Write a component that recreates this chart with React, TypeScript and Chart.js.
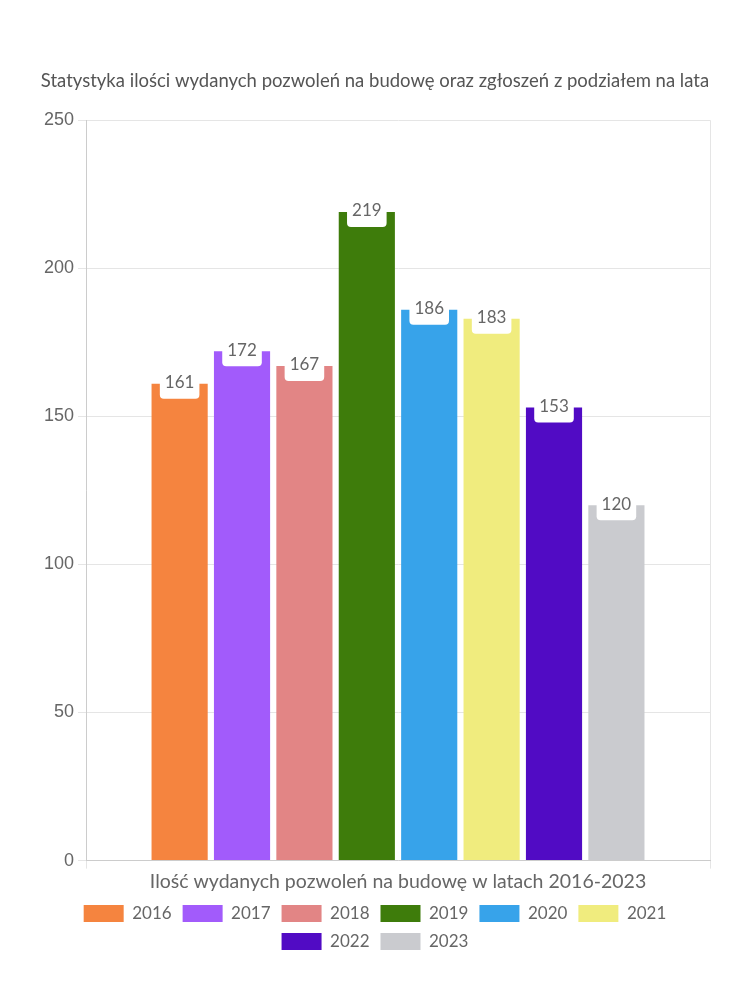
import React, { useEffect, useRef } from "react";
import { Chart, registerables } from "chart.js";

Chart.register(...registerables);

const categories = ["Ilość wydanych pozwoleń na budowę w latach 2016-2023"];
const years = ["2016", "2017", "2018", "2019", "2020", "2021", "2022", "2023"];
const values = [161, 172, 167, 219, 186, 183, 153, 120];
const colors = ["#F5843F", "#A25BFB", "#E28585", "#3E7C0B", "#37A3EA", "#F0EC7E", "#510BC4", "#CACBCF"];
const yTicks = [0, 50, 100, 150, 200, 250];
const titleText = "Statystyka ilości wydanych pozwoleń na budowę oraz zgłoszeń z podziałem na lata";

const FONT = "Lato, 'Noto Sans', sans-serif";

const labelPlugin = {
  id: "barLabels",
  afterDatasetsDraw(chart: any) {
    const ctx = chart.ctx;
    ctx.save();
    ctx.font = `17px ${FONT}`;
    ctx.textAlign = "center";
    ctx.textBaseline = "middle";
    chart.data.datasets.forEach((ds: any, i: number) => {
      const meta = chart.getDatasetMeta(i);
      meta.data.forEach((bar: any, j: number) => {
        const v = ds.data[j];
        const text = String(v);
        const w = ctx.measureText(text).width + 10;
        const h = 32;
        const x = bar.x;
        const cy = bar.y - 1;
        ctx.fillStyle = "#ffffff";
        ctx.beginPath();
        (ctx as any).roundRect(x - w / 2, cy - h / 2, w, h, 4);
        ctx.fill();
        ctx.fillStyle = "#666666";
        ctx.fillText(text, x, cy);
      });
    });
    ctx.restore();
  },
};

export default function App() {
  const ref = useRef<HTMLCanvasElement>(null);
  useEffect(() => {
    document.body.style.margin = "0";
    const chart = new Chart(ref.current!, {
      type: "bar",
      data: {
        labels: categories,
        datasets: years.map((y, i) => ({
          label: y,
          data: [values[i]],
          backgroundColor: colors[i],
          borderWidth: 0,
        })),
      },
      options: {
        animation: false,
        responsive: false,
        maintainAspectRatio: false,
        layout: { padding: { top: 60, left: 40, right: 40, bottom: 40 } },
        plugins: {
          title: {
            display: true,
            text: titleText,
            color: "#555555",
            font: { family: FONT, size: 18.5, weight: "normal" },
            padding: { top: 10, bottom: 28 },
          },
          legend: {
            position: "bottom",
            labels: {
              color: "#666666",
              font: { family: FONT, size: 17 },
              boxWidth: 40,
              boxHeight: 17,
              padding: 11,
            },
          },
          tooltip: { enabled: false },
        },
        scales: {
          x: {
            grid: { color: "#e5e5e5", drawTicks: true, tickLength: 8 },
            border: { color: "#cccccc" },
            ticks: { color: "#666666", font: { family: FONT, size: 19.5 }, padding: 1 },
          },
          y: {
            min: 0,
            max: 250,
            afterBuildTicks: (axis: any) => {
              axis.ticks = yTicks.map((v) => ({ value: v }));
            },
            grid: { color: "#e5e5e5", tickLength: 8 },
            border: { color: "#cccccc" },
            ticks: { color: "#666666", font: { family: "'Liberation Sans', Arial, sans-serif", size: 18 }, padding: 4 },
          },
        },
      },
      plugins: [labelPlugin],
    });
    return () => chart.destroy();
  }, []);
  return (
    <div style={{ width: 750, height: 1000 }}>
      <canvas ref={ref} width={750} height={1000} style={{ width: 750, height: 1000 }} />
    </div>
  );
}
